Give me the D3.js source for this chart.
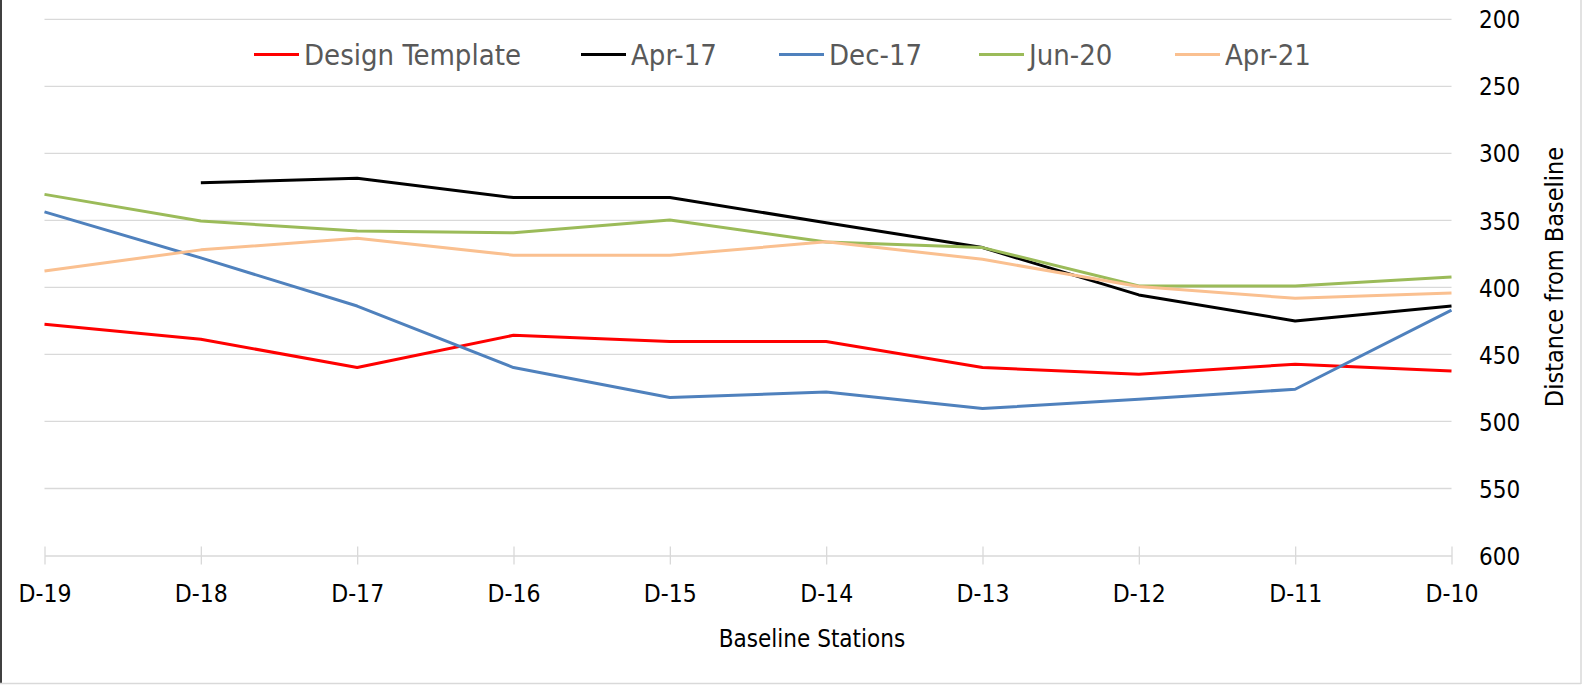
<!DOCTYPE html>
<html>
<head>
<meta charset="utf-8">
<script src="https://cdn.jsdelivr.net/npm/d3@7/dist/d3.min.js"></script>
<style>
  html, body { margin: 0; padding: 0; background: #ffffff; }
  svg { display: block; }
  .cond { font-family: "DejaVu Sans Condensed", "DejaVu Sans", sans-serif; font-stretch: condensed; }
</style>
</head>
<body>
<svg id="chart" width="1585" height="686"></svg>
<script>
// Baseline stations along the x axis
const stations = ["D-19", "D-18", "D-17", "D-16", "D-15", "D-14", "D-13", "D-12", "D-11", "D-10"];

// Distance from baseline per survey (null = not surveyed)
const designTemplate = [427.5, 438.7, 459.8, 435.7, 440.4, 440.4, 459.8, 464.8, 457.3, 462.3];
const apr17 = [null, 321.9, 318.6, 333.0, 333.0, 351.7, 370.3, 405.6, 425.0, 413.9];
const dec17 = [343.7, 378.0, 413.9, 459.8, 482.2, 478.0, 490.4, 483.4, 476.0, 416.9];
const jun20 = [330.6, 350.5, 357.9, 359.2, 349.7, 366.1, 370.3, 398.9, 398.9, 392.2];
const apr21 = [387.7, 372.0, 363.4, 376.0, 376.0, 366.0, 379.0, 399.4, 408.1, 404.1];

const yTicks = [200, 250, 300, 350, 400, 450, 500, 550, 600];

const seriesNames = ["Design Template", "Apr-17", "Dec-17", "Jun-20", "Apr-21"];
const seriesValues = [designTemplate, apr17, dec17, jun20, apr21];
const seriesColors = ["#ff0000", "#000000", "#4f81bd", "#9bbb59", "#fac090"];

const svg = d3.select("#chart");

// Chart frame
svg.append("line").attr("x1", 1).attr("x2", 1).attr("y1", 0).attr("y2", 684)
  .attr("stroke", "#404040").attr("stroke-width", 2);
svg.append("line").attr("x1", 0).attr("x2", 1581).attr("y1", 683.5).attr("y2", 683.5)
  .attr("stroke", "#d9d9d9").attr("stroke-width", 1.5);
svg.append("line").attr("x1", 1581).attr("x2", 1581).attr("y1", 0).attr("y2", 684)
  .attr("stroke", "#d9d9d9").attr("stroke-width", 1.5);

const x = d3.scalePoint().domain(stations).range([44.5, 1451.5]);
const y = d3.scaleLinear().domain([200, 600]).range([19.3, 555.5]);

// Horizontal gridlines
svg.append("g")
  .selectAll("line")
  .data(yTicks.slice(0, -1))
  .join("line")
  .attr("x1", x.range()[0]).attr("x2", x.range()[1])
  .attr("y1", d => y(d)).attr("y2", d => y(d))
  .attr("stroke", "#d9d9d9").attr("stroke-width", 1.3);

// Category axis along the bottom (600 line) with crossing tick marks
const xAxis = d3.axisBottom(x).tickSize(0).tickPadding(0).tickFormat("");
const gx = svg.append("g").attr("transform", `translate(0,${y(600)})`).call(xAxis);
gx.select(".domain").attr("stroke", "#d9d9d9").attr("stroke-width", 1.3);
gx.selectAll(".tick").append("line")
  .attr("y1", -9).attr("y2", 9)
  .attr("stroke", "#d9d9d9").attr("stroke-width", 1.3);
gx.selectAll(".tick").append("text")
  .attr("class", "cond")
  .attr("y", 46.5)
  .attr("text-anchor", "middle")
  .attr("fill", "#000000")
  .attr("font-size", 24.5)
  .text(d => d);

// Value axis on the right, labels only
const yAxis = d3.axisRight(y).tickValues(yTicks).tickSize(0).tickPadding(0);
const gy = svg.append("g").attr("transform", "translate(1479,0)").call(yAxis);
gy.select(".domain").remove();
gy.selectAll(".tick text")
  .attr("class", "cond")
  .attr("x", 0)
  .attr("dy", "0.36em")
  .attr("fill", "#000000")
  .attr("font-size", 24)
  .attr("text-anchor", "start");

// Axis titles
svg.append("text")
  .attr("class", "cond")
  .attr("x", 812).attr("y", 647)
  .attr("text-anchor", "middle")
  .attr("font-size", 24)
  .attr("fill", "#000000")
  .text("Baseline Stations");

svg.append("text")
  .attr("class", "cond")
  .attr("transform", "translate(1563,277) rotate(-90)")
  .attr("text-anchor", "middle")
  .attr("font-size", 25)
  .attr("fill", "#000000")
  .text("Distance from Baseline");

// Series lines
const line = d3.line()
  .defined(d => d.v !== null)
  .x(d => x(d.s))
  .y(d => y(d.v));

svg.append("g")
  .selectAll("path")
  .data(seriesValues.map((vals, i) => ({
    name: seriesNames[i],
    color: seriesColors[i],
    pts: vals.map((v, j) => ({ s: stations[j], v }))
  })))
  .join("path")
  .attr("fill", "none")
  .attr("stroke", d => d.color)
  .attr("stroke-width", 3)
  .attr("stroke-linejoin", "round")
  .attr("d", d => line(d.pts));

// Legend
const legendX = [254, 581, 779, 979, 1175];
const legend = svg.append("g")
  .selectAll("g")
  .data(seriesNames.map((n, i) => ({ n, c: seriesColors[i], lx: legendX[i] })))
  .join("g")
  .attr("transform", d => `translate(${d.lx},54.5)`);
legend.append("line")
  .attr("x1", 0).attr("x2", 45)
  .attr("stroke", d => d.c).attr("stroke-width", 3);
legend.append("text")
  .attr("class", "cond")
  .attr("x", 50)
  .attr("y", 10.5)
  .attr("font-size", 29)
  .attr("fill", "#595959")
  .text(d => d.n);
</script>
</body>
</html>
